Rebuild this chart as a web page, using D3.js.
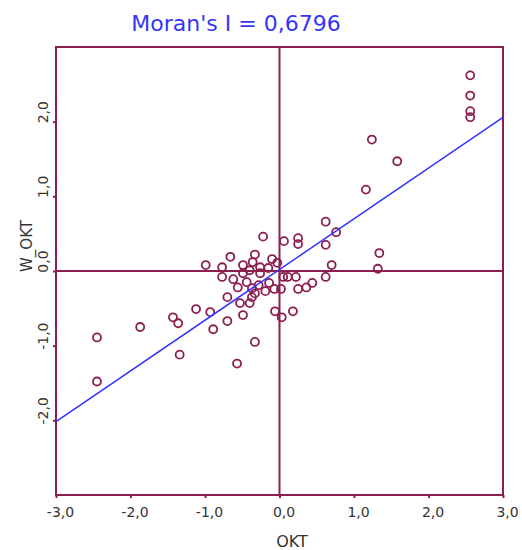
<!DOCTYPE html>
<html>
<head>
    <meta charset="utf-8">
    <title>Moran scatterplot</title>
    <script src="https://d3js.org/d3.v7.min.js"></script>
    <style>
        body {
            margin: 0;
            padding: 0;
            background-color: #ffffff;
            font-family: "DejaVu Sans", Verdana, sans-serif;
        }
        .tick-label {
            font-size: 14px;
            fill: #333333;
        }
    </style>
</head>
<body>
    <div id="chart"></div>

    <script>
        // OKT values (x) and spatially lagged W_OKT values (y)
        const okt = [
            2.56, 2.56, 2.56, 2.56, 1.24, 1.58, 1.16, 0.62, 0.76, 0.62,
            0.70, 0.62, 1.34, 1.32, -0.22, 0.06, 0.25, 0.25, -0.66, -0.99,
            -0.77, -0.77, -0.62, -0.49, -0.33, -0.36, -0.26, -0.40, -0.49, -0.26,
            -0.10, -0.03, 0.05, 0.11, 0.22, -0.44, -0.56, -0.37, -0.28, -0.14,
            -0.19, -0.33, 0.02, -0.07, 0.25, 0.36, 0.44, -0.70, -0.53, -0.40,
            -0.37, -1.12, -0.93, -0.89, -0.70, -0.49, -0.06, 0.03, 0.18, -0.33,
            -0.57, -2.45, -2.45, -1.87, -1.43, -1.36, -1.34, -0.15
        ];
        const wOkt = [
            2.62, 2.35, 2.14, 2.06, 1.76, 1.47, 1.09, 0.66, 0.52, 0.35,
            0.08, -0.08, 0.24, 0.03, 0.46, 0.40, 0.44, 0.36, 0.19, 0.08,
            0.05, -0.08, -0.11, 0.08, 0.22, 0.12, 0.05, 0.01, -0.03, -0.03,
            0.16, 0.11, -0.08, -0.08, -0.08, -0.15, -0.22, -0.23, -0.19, -0.16,
            -0.27, -0.30, -0.24, -0.24, -0.24, -0.22, -0.16, -0.35, -0.43, -0.43,
            -0.35, -0.51, -0.55, -0.78, -0.67, -0.59, -0.54, -0.62, -0.54, -0.95,
            -1.24, -0.89, -1.48, -0.75, -0.62, -0.70, -1.12, 0.04
        ];
        const xTicks = [-3, -2, -1, 0, 1, 2, 3];
        const yTicks = [-2, -1, 0, 1, 2];
        const moranI = 0.6796;
        const intercept = 0.02;

        const data = okt.map((x, i) => ({ x: x, y: wOkt[i] }));

        const W = 522, H = 550;
        const margin = { top: 47, right: 19, bottom: 55, left: 56 };
        const width = W - margin.left - margin.right;
        const height = H - margin.top - margin.bottom;
        const dark = "#8c1f50";

        const svg = d3.select("#chart")
            .append("svg")
            .attr("width", W)
            .attr("height", H);

        const g = svg.append("g")
            .attr("transform", `translate(${margin.left},${margin.top})`);

        const x = d3.scaleLinear().domain([-3, 3]).range([0, width]);
        const y = d3.scaleLinear().domain([-3, 3]).range([height, 0]);
        const fmt = v => d3.format(".1f")(v).replace(".", ",").replace("−", "-");

        // frame
        g.append("rect")
            .attr("width", width)
            .attr("height", height)
            .attr("fill", "none")
            .attr("stroke", dark)
            .attr("stroke-width", 2);

        // axes (ticks outward, short)
        const xAxis = g.append("g")
            .attr("transform", `translate(0,${height})`)
            .call(d3.axisBottom(x).tickValues(xTicks).tickSize(3).tickFormat(fmt));
        const yAxis = g.append("g")
            .call(d3.axisLeft(y).tickValues(yTicks).tickSize(3).tickFormat(fmt));

        [xAxis, yAxis].forEach(a => {
            a.select(".domain").remove();
            a.selectAll(".tick line").attr("stroke", dark).attr("stroke-width", 2);
            a.selectAll(".tick text")
                .attr("class", "tick-label")
                .style("font-family", "'DejaVu Sans', Verdana, sans-serif");
        });
        xAxis.selectAll(".tick text").attr("dx", 4).attr("y", 12);
        yAxis.selectAll(".tick text")
            .attr("x", 0).attr("dy", 0)
            .attr("text-anchor", "middle")
            .attr("transform", "translate(-8,-10) rotate(-90)");

        // cross lines at zero
        g.append("line")
            .attr("x1", x(0)).attr("x2", x(0))
            .attr("y1", 0).attr("y2", height)
            .attr("stroke", dark).attr("stroke-width", 2);
        g.append("line")
            .attr("x1", 0).attr("x2", width)
            .attr("y1", y(0)).attr("y2", y(0))
            .attr("stroke", dark).attr("stroke-width", 2);

        // points
        g.selectAll("circle.pt")
            .data(data)
            .enter()
            .append("circle")
            .attr("class", "pt")
            .attr("cx", d => x(d.x))
            .attr("cy", d => y(d.y))
            .attr("r", 4)
            .attr("fill", "none")
            .attr("stroke", dark)
            .attr("stroke-width", 1.8);

        // regression line, slope = Moran's I
        g.append("line")
            .attr("x1", x(-3)).attr("y1", y(intercept - 3 * moranI))
            .attr("x2", x(3)).attr("y2", y(intercept + 3 * moranI))
            .attr("stroke", "#3333ff")
            .attr("stroke-width", 1.5);

        // title
        svg.append("text")
            .attr("x", 236)
            .attr("y", 31)
            .attr("text-anchor", "middle")
            .style("font-size", "22px")
            .style("fill", "#3535f5")
            .text("Moran's I = " + d3.format(".4f")(moranI).replace(".", ","));

        // axis labels
        svg.append("text")
            .attr("x", 292)
            .attr("y", 547)
            .attr("text-anchor", "middle")
            .style("font-size", "16px")
            .style("fill", "#333333")
            .text("OKT");

        svg.append("text")
            .attr("transform", "translate(32,246) rotate(-90)")
            .attr("text-anchor", "middle")
            .style("font-size", "15px")
            .style("fill", "#333333")
            .text("W_OKT");
    </script>
</body>
</html>
